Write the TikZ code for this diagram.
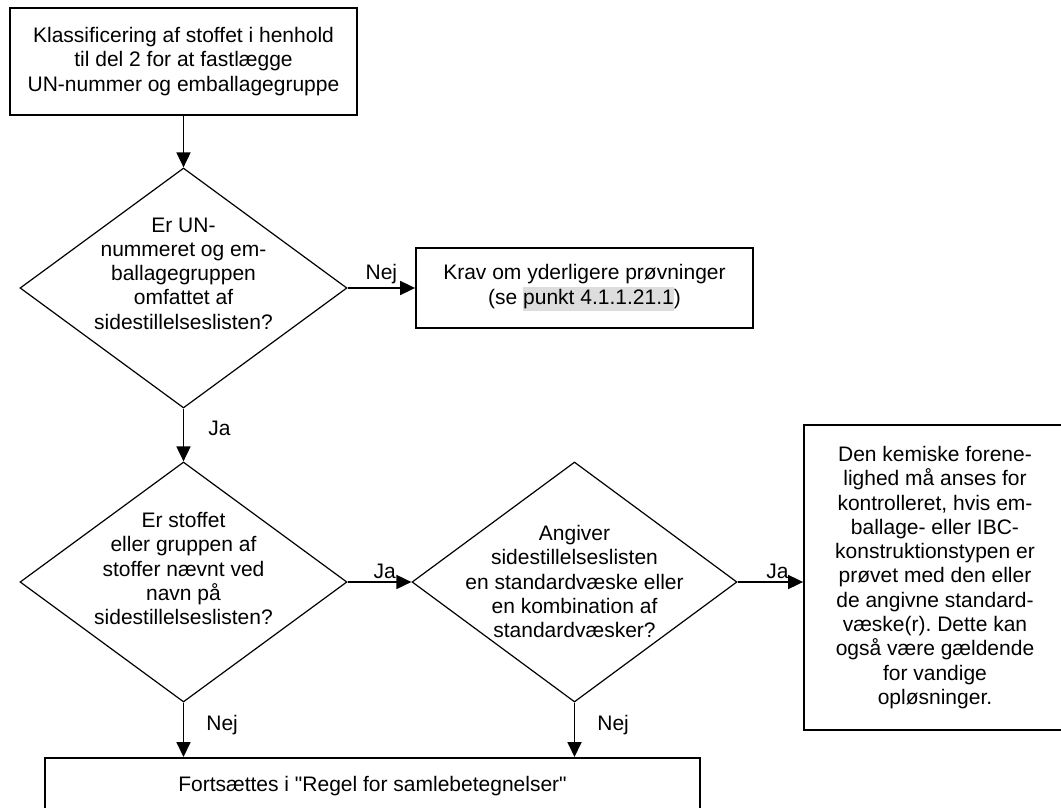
\documentclass[tikz,border=0pt]{standalone}
\usepackage{fontspec}
\setmainfont{Liberation Sans}[Ligatures=TeXOff]
\usetikzlibrary{shapes.geometric,arrows.meta}
\definecolor{hlgray}{RGB}{221,221,221}
\frenchspacing

\begin{document}
\begin{tikzpicture}[x=1pt,y=-1pt,
    every node/.style={font=\fontsize{21}{24.3}\selectfont},
    box/.style={draw,line width=1.8pt,align=center,inner sep=0pt},
    ask/.style={draw,diamond,line width=1.2pt,inner sep=0pt,minimum width=327pt,minimum height=240pt},
    asktext/.style={align=center,inner sep=0pt},
    flow/.style={line width=1.8pt,-{Triangle[length=15pt,width=14pt]}},
    answer/.style={inner sep=0pt}]
\clip (0,0) rectangle (1061,808);

\node[box,minimum width=347pt,minimum height=107pt] (klass) at (183.5,61.5)
    {Klassificering af stoffet i henhold\\til del 2 for at fastlægge\\UN-nummer og emballagegruppe};
\node[box,minimum width=337pt,minimum height=80pt] (krav) at (584.5,288)
    {Krav om yderligere prøvninger\\(se {\setlength{\fboxsep}{0pt}\colorbox{hlgray}{\strut punkt 4.1.1.21.1}})};

\node[ask] (q1) at (183.5,288) {};
\node[asktext] (q1txt) at (183.5,273.5)
    {Er UN-\\nummeret og em-\\ballagegruppen\\omfattet af\\sidestillelseslisten?};
\node[ask] (q2) at (183.5,582) {};
\node[asktext] (q2txt) at (183.5,568.5)
    {Er stoffet\\eller gruppen af\\stoffer nævnt ved\\navn på\\sidestillelseslisten?};
\node[ask,minimum width=325pt] (q3) at (574.5,582) {};
\node[asktext] (q3txt) at (574.5,581.5)
    {Angiver\\sidestillelseslisten\\en standardvæske eller\\en kombination af\\standardvæsker?};

\node[box,minimum width=262pt,minimum height=305pt] (komp) at (935,577.5)
    {Den kemiske forene-\\lighed må anses for\\kontrolleret, hvis em-\\ballage- eller IBC-\\konstruktionstypen er\\prøvet med den eller\\de angivne standard-\\væske(r). Dette kan\\også være gældende\\for vandige\\opløsninger.};
\node[box,minimum width=655pt,minimum height=56pt,anchor=north] (fort) at (372.5,757)
    {Fortsættes i "Regel for samlebetegnelser"};

\draw[flow] (klass) -- (q1);
\draw[flow] (q1) -- node[answer,above=3pt] {Nej} (krav);
\draw[flow] (q1) -- node[answer,right=24pt,pos=0.37] {Ja} (q2);
\draw[flow] (q2) -- node[answer,above=2pt,pos=0.58] {Ja} (q3);
\draw[flow] (q3.east) -- node[answer,above=2pt,pos=0.61] {Ja} (q3.east -| komp.west);
\draw[flow] (q2.south) -- node[answer,right=22pt,pos=0.42] {Nej} (q2.south |- fort.north);
\draw[flow] (q3.south) -- node[answer,right=22pt,pos=0.42] {Nej} (q3.south |- fort.north);
\end{tikzpicture}
\end{document}
